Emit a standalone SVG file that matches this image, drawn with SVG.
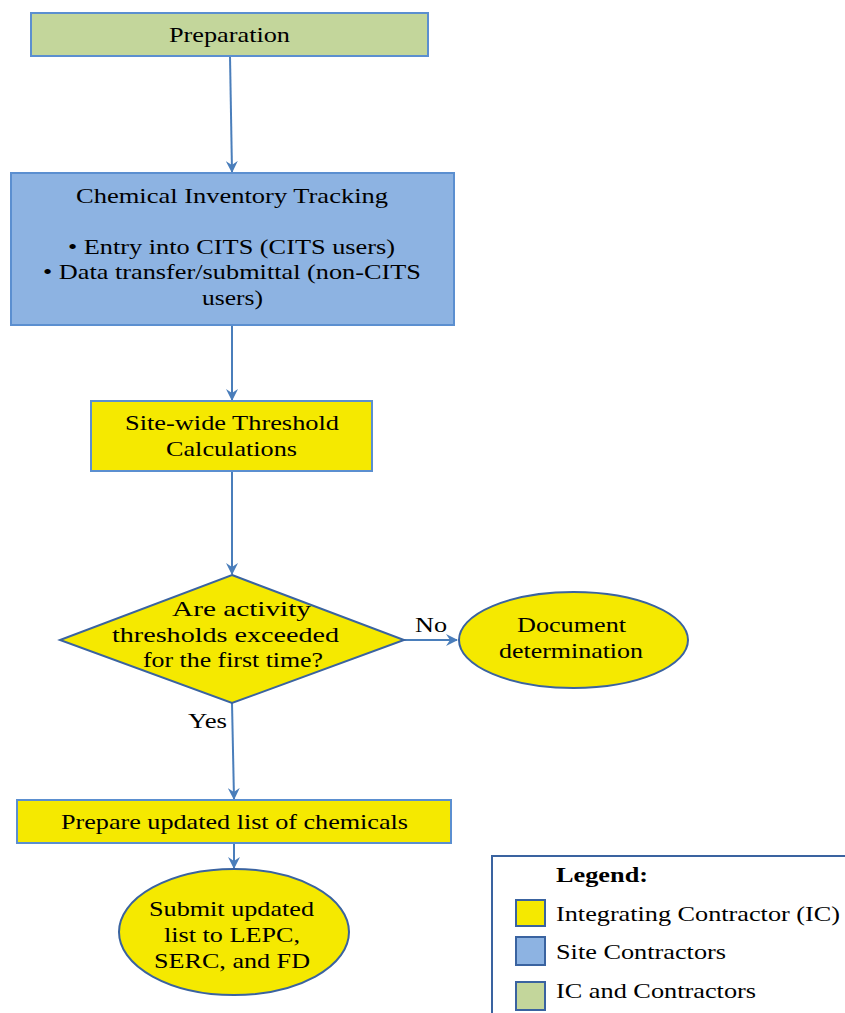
<svg xmlns="http://www.w3.org/2000/svg" width="845" height="1013" viewBox="0 0 845 1013">
  <style>
    .t { font-family: "Liberation Serif", "Times New Roman", serif; font-size: 21px; fill: #000; text-anchor: middle; }
    .tl { font-family: "Liberation Serif", "Times New Roman", serif; font-size: 21px; fill: #000; text-anchor: start; }
    .box { stroke: #5B8FD0; stroke-width: 2; }
    .shape { stroke: #3A63A0; stroke-width: 2; }
    .green { fill: #C3D69B; }
    .blue { fill: #8DB3E2; }
    .yellow { fill: #F5E900; }
    .conn { stroke: #4A7EBB; stroke-width: 2; fill: none; marker-end: url(#arrow); }
  </style>
  <defs>
    <marker id="arrow" viewBox="0 0 12 12" refX="11" refY="6" markerWidth="12" markerHeight="12" markerUnits="userSpaceOnUse" orient="auto">
      <path d="M0,0 L12,6 L0,12 L4,6 z" fill="#4A7EBB"/>
    </marker>
  </defs>

  <rect width="845" height="1013" fill="#FFFFFF"/>

  <!-- connectors -->
  <g id="connectors">
    <line class="conn" x1="230" y1="56" x2="232" y2="172"/>
    <line class="conn" x1="232" y1="325" x2="232" y2="400"/>
    <line class="conn" x1="232" y1="471" x2="232" y2="574"/>
    <line class="conn" x1="404" y1="640" x2="457" y2="640"/>
    <line class="conn" x1="232" y1="703" x2="234" y2="799"/>
    <line class="conn" x1="234" y1="843" x2="234" y2="868"/>
    <text class="tl" x="415" y="632" textLength="32" lengthAdjust="spacingAndGlyphs">No</text>
    <text class="tl" x="188" y="728" textLength="39" lengthAdjust="spacingAndGlyphs">Yes</text>
  </g>

  <g id="preparation">
    <rect class="box green" x="31" y="13" width="397" height="43"/>
    <text class="t" x="229.5" y="42" textLength="121" lengthAdjust="spacingAndGlyphs">Preparation</text>
  </g>

  <g id="inventory-tracking">
    <rect class="box blue" x="11" y="173" width="443" height="152"/>
    <text class="t" x="232" y="203" textLength="312" lengthAdjust="spacingAndGlyphs">Chemical Inventory Tracking</text>
    <text class="t" x="231.5" y="254" textLength="327" lengthAdjust="spacingAndGlyphs">• Entry into CITS (CITS users)</text>
    <text class="t" x="232" y="279" textLength="378" lengthAdjust="spacingAndGlyphs">• Data transfer/submittal (non-CITS</text>
    <text class="t" x="232.5" y="305" textLength="61" lengthAdjust="spacingAndGlyphs">users)</text>
  </g>

  <g id="threshold-calculations">
    <rect class="box yellow" x="91" y="401" width="281" height="70"/>
    <text class="t" x="232" y="430" textLength="214" lengthAdjust="spacingAndGlyphs">Site-wide Threshold</text>
    <text class="t" x="231.5" y="456" textLength="131" lengthAdjust="spacingAndGlyphs">Calculations</text>
  </g>

  <g id="threshold-decision">
    <polygon class="shape yellow" points="232,575 404,640 232,703 60,640"/>
    <text class="t" x="241.5" y="616" textLength="139" lengthAdjust="spacingAndGlyphs">Are activity</text>
    <text class="t" x="225.5" y="642" textLength="227" lengthAdjust="spacingAndGlyphs">thresholds exceeded</text>
    <text class="t" x="233" y="667" textLength="180" lengthAdjust="spacingAndGlyphs">for the first time?</text>
  </g>

  <g id="document-determination">
    <ellipse class="shape yellow" cx="573.5" cy="640" rx="114.5" ry="48"/>
    <text class="t" x="571.5" y="632" textLength="109" lengthAdjust="spacingAndGlyphs">Document</text>
    <text class="t" x="571" y="658" textLength="144" lengthAdjust="spacingAndGlyphs">determination</text>
  </g>

  <g id="prepare-list">
    <rect class="box yellow" x="17" y="800" width="434" height="43"/>
    <text class="t" x="234.5" y="829" textLength="347" lengthAdjust="spacingAndGlyphs">Prepare updated list of chemicals</text>
  </g>

  <g id="submit-list">
    <ellipse class="shape yellow" cx="234" cy="932" rx="115" ry="63"/>
    <text class="t" x="231.5" y="916" textLength="165" lengthAdjust="spacingAndGlyphs">Submit updated</text>
    <text class="t" x="232" y="942" textLength="136" lengthAdjust="spacingAndGlyphs">list to LEPC,</text>
    <text class="t" x="232" y="968" textLength="156" lengthAdjust="spacingAndGlyphs">SERC, and FD</text>
  </g>

  <g id="legend">
    <rect x="492" y="856" width="360" height="170" fill="#FFFFFF" stroke="#3A63A0" stroke-width="2"/>
    <text class="tl" x="556" y="882" font-weight="bold" textLength="92" lengthAdjust="spacingAndGlyphs">Legend:</text>
    <rect class="shape yellow" x="516" y="900" width="29" height="26"/>
    <text class="tl" x="556" y="921" textLength="284" lengthAdjust="spacingAndGlyphs">Integrating Contractor (IC)</text>
    <rect class="shape blue" x="516" y="937" width="29" height="28"/>
    <text class="tl" x="556" y="959" textLength="170" lengthAdjust="spacingAndGlyphs">Site Contractors</text>
    <rect class="shape green" x="516" y="982" width="29" height="28"/>
    <text class="tl" x="556" y="998" textLength="200" lengthAdjust="spacingAndGlyphs">IC and Contractors</text>
  </g>
</svg>
